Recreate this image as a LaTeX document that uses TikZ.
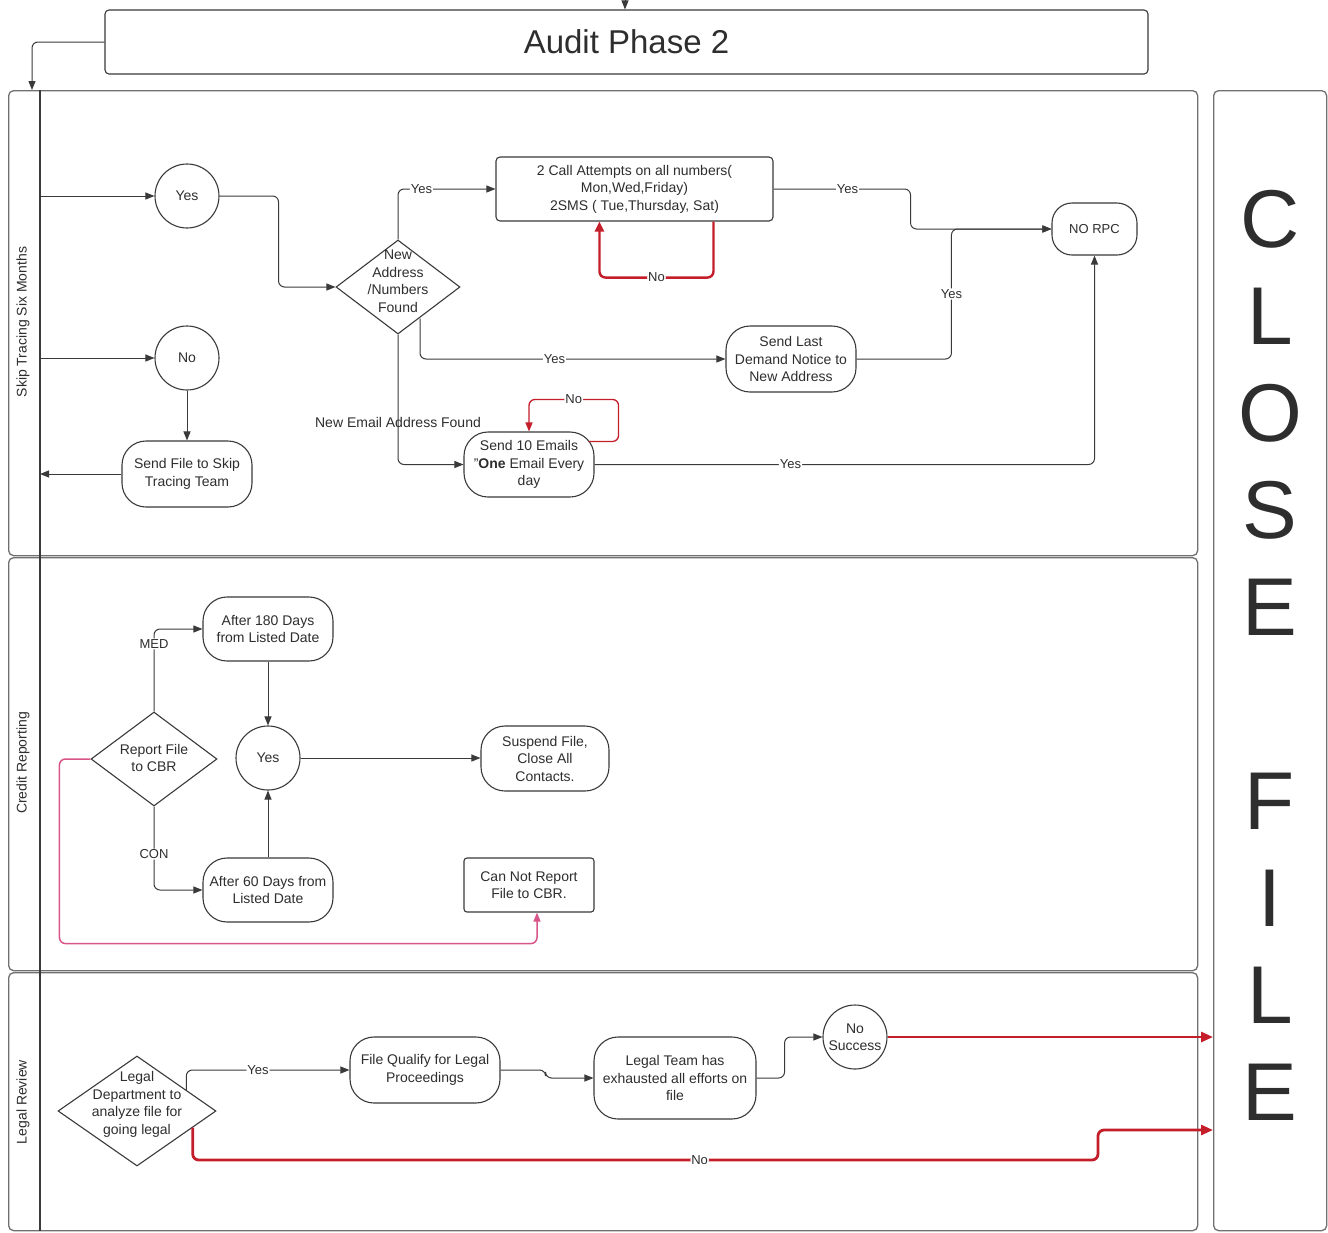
\documentclass[tikz,border=0pt]{standalone}
\usepackage{fontspec}
\setmainfont{Liberation Sans}
\usetikzlibrary{shapes.geometric,arrows.meta,calc}
\definecolor{ln}{HTML}{3A3A3A}
\definecolor{bd}{HTML}{707070}
\definecolor{rd}{HTML}{C41E2A}
\definecolor{pk}{HTML}{D8558A}
\definecolor{tx}{HTML}{2E2E2E}
\tikzset{
  base/.style={draw=ln, line width=1.1pt, align=center, inner sep=0pt, fill=white, text=tx},
  circ/.style={base, circle, minimum size=64pt},
  pill/.style={base, rectangle, rounded corners=24pt},
  boxn/.style={base, rectangle, rounded corners=4pt},
  dia/.style={base, diamond},
  dtext/.style={align=center, inner sep=0pt, text=tx},
  lane/.style={draw=bd, line width=1.3pt, rounded corners=5pt, inner sep=0pt},
  arr/.style={draw=ln, line width=1pt, rounded corners=6pt, -{Triangle[length=9pt,width=7pt]}},
  redarr/.style={draw=rd, line width=2.4pt, rounded corners=6pt, -{Triangle[length=10pt,width=9pt]}},
  redthin/.style={draw=rd, line width=1.3pt, rounded corners=6pt, -{Triangle[length=9pt,width=7pt]}},
  redthick/.style={draw=rd, line width=2.8pt, rounded corners=6pt, -{Triangle[length=12pt,width=10pt]}},
  pinkarr/.style={draw=pk, line width=1.5pt, rounded corners=6pt, -{Triangle[length=9pt,width=7pt]}},
  lbl/.style={font=\fontsize{13}{15}\selectfont, fill=white, inner sep=1pt, text=tx},
}
\begin{document}
\begin{tikzpicture}[x=1pt,y=-1pt, font=\fontsize{14}{17.5}\selectfont]
\useasboundingbox[fill=white] (0,0) rectangle (1328,1232);

% lanes
\node[lane, minimum width=1189pt, minimum height=465pt, anchor=north west] (L1) at (8,90) {};
\node[lane, minimum width=1189pt, minimum height=413pt, anchor=north west] (L2) at (8,557) {};
\node[lane, minimum width=1189pt, minimum height=258pt, anchor=north west] (L3) at (8,972) {};
\node[lane, minimum width=113pt, minimum height=1140pt, anchor=north west] (cf) at (1213,90) {};
\coordinate (hdr) at (40,90);
\draw[draw=ln, line width=1.3pt] (hdr) -- (hdr |- L3.south);
\node[rotate=90, text=tx] (lt1) at (23,322) {Skip Tracing Six Months};
\node[rotate=90, text=tx] (lt2) at (23,763) {Credit Reporting};
\node[rotate=90, text=tx] (lt3) at (23,1102) {Legal Review};
\node[align=center, text=tx, font=\fontsize{82}{97}\selectfont, inner sep=0pt] (cft) at (1270,655) {C\\L\\O\\S\\E\\\mbox{}\\F\\I\\L\\E};

% audit box
\node[boxn, minimum width=1043pt, minimum height=64pt, font=\fontsize{33}{36}\selectfont] (ab) at (626.5,42) {Audit Phase 2};
\coordinate (tin) at (625,0);
\draw[arr] (tin) -- (tin |- ab.north);
\draw[arr] (ab.west) -| ($(L1.north west)+(24,0)$);

% skip tracing lane
\node[circ] (y1) at (187,196) {Yes};
\node[circ] (n1) at (187,358) {No};
\node[pill, minimum width=130pt, minimum height=66pt] (sf) at (187,474) {Send File to Skip\\Tracing Team};
\node[dia, minimum width=124pt, minimum height=94pt] (d1) at (398,287) {};
\node[dtext] (d1t) at (398,281) {New\\Address\\/Numbers\\Found};
\node[boxn, minimum width=277pt, minimum height=64pt] (c1) at (634.5,189) {2 Call Attempts on all numbers(\\Mon,Wed,Friday)\\2SMS ( Tue,Thursday, Sat)};
\node[pill, rounded corners=20pt, minimum width=85pt, minimum height=52pt, font=\fontsize{13}{16}\selectfont] (rpc) at (1094.5,229) {NO RPC};
\node[pill, minimum width=130pt, minimum height=66pt] (sl) at (791,359) {Send Last\\Demand Notice to\\New Address};
\node[pill, minimum width=130pt, minimum height=65pt] (em) at (529,464.5) {Send 10 Emails\\"\textbf{One} Email Every\\day};

\draw[arr] (y1.west -| hdr) -- (y1.west);
\draw[arr] (n1.west -| hdr) -- (n1.west);
\draw[arr] (n1.south) -- (sf.north);
\draw[arr] (sf.west) -- (sf.west -| hdr);
\draw[arr] (y1.east) -- ++(59,0) |- (d1.west);
\draw[arr] (d1.north) |- node[lbl,pos=0.62]{Yes} (c1.west);
\draw[arr] (c1.east) -- node[lbl,pos=0.54]{Yes} ++(137,0) |- (rpc.west);
\draw[arr] (sl.east) -| node[lbl,pos=0.75]{Yes} ($(rpc.west)+(-100,0)$) -- (rpc.west);
\draw[arr] ($(d1.south)+(22,-16)$) |- node[lbl,pos=0.72]{Yes} (sl.west);
\draw[arr] (d1.south) |- (em.west);
\node[text=tx] (nel) at (398,422) {New Email Address Found};
\draw[arr] (em.east) -| node[lbl,pos=0.196]{Yes} (rpc.south);
\draw[redarr] ($(c1.south west)+(218,0)$) -- ++(0,56) -| node[lbl,pos=0.25]{No} ($(c1.south west)+(104,0)$);
\draw[redthin] ($(em.north east)+(-6,10)$) -- ++(30,0) -- ++(0,-42) -| node[lbl,pos=0.25]{No} (em.north);

% credit reporting lane
\node[dia, minimum width=126pt, minimum height=94pt] (cr) at (154,759) {};
\node[dtext] (crt) at (154,758) {Report File\\to CBR};
\node[pill, minimum width=130pt, minimum height=64pt] (a180) at (268,629) {After 180 Days\\from Listed Date};
\node[circ] (y2) at (268,758) {Yes};
\node[pill, minimum width=130pt, minimum height=64pt] (a60) at (268,890) {After 60 Days from\\Listed Date};
\node[pill, minimum width=128pt, minimum height=65pt] (sus) at (545,758.5) {Suspend File,\\Close All\\Contacts.};
\node[boxn, rounded corners=3pt, minimum width=130pt, minimum height=54pt] (cnr) at (529,885) {Can Not Report\\File to CBR.};

\draw[arr] (cr.north) |- node[lbl,pos=0.41]{MED} (a180.west);
\draw[arr] (cr.south) |- node[lbl,pos=0.285]{CON} (a60.west);
\draw[arr] (a180.south) -- (y2.north);
\draw[arr] (a60.north) -- (y2.south);
\draw[arr] (y2.east) -- (y2.east -| sus.west);
\draw[pinkarr] (cr.west) -- ++(-31,0) |- ($(cnr.south)+(8,31)$) -- ($(cnr.south)+(8,0)$);

% legal review lane
\node[dia, minimum width=158pt, minimum height=110pt] (ld) at (137,1111) {};
\node[dtext] (ldt) at (137,1104.5) {Legal\\Department to\\analyze file for\\going legal};
\node[pill, minimum width=150pt, minimum height=66pt] (fq) at (425,1070) {File Qualify for Legal\\Proceedings};
\node[pill, minimum width=162pt, minimum height=82pt] (lt) at (675,1078) {Legal Team has\\exhausted all efforts on\\file};
\node[circ] (ns) at (855,1037) {No\\Success};

\draw[arr] ($(ld.north)!0.62!(ld.east)$) |- node[lbl,pos=0.72]{Yes} (fq.west);
\draw[arr] (fq.east) -- ++(45,0) |- (lt.west);
\draw[arr] (lt.east) -- ++(28,0) |- (ns.west);
\draw[redthick] (ns.east) -- (ns.east -| cf.west);
\coordinate (nb) at (1098,1130);
\draw[redthick] ($(ld.east)!0.3!(ld.south)$) |- node[lbl,pos=0.78]{No} ($(nb)+(0,30)$) -- (nb) -- (nb -| cf.west);
\end{tikzpicture}
\end{document}
